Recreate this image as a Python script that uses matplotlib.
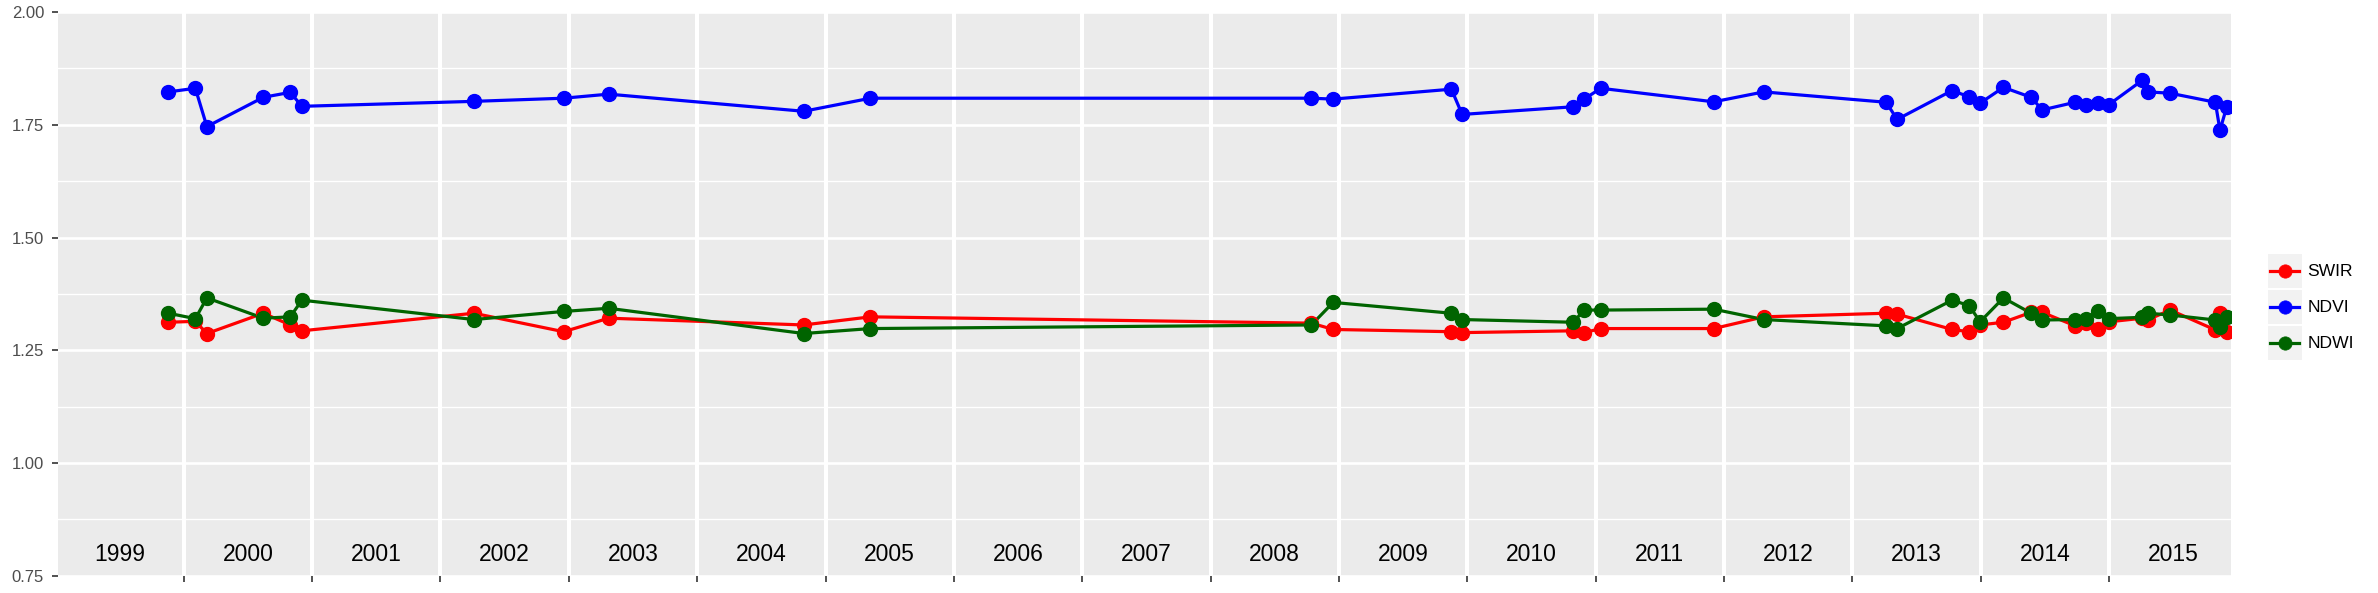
import matplotlib
matplotlib.use("Agg")
import matplotlib.pyplot as plt
from matplotlib.patches import Rectangle
from matplotlib.ticker import MultipleLocator, NullFormatter

# acquisition dates as decimal years
dates = [1999.88, 2000.09, 2000.18, 2000.62, 2000.83, 2000.92, 2002.26, 2002.96, 2003.31,
         2004.83, 2005.35,
         2008.785, 2008.955, 2009.876, 2009.96, 2010.825, 2010.91, 2011.04, 2011.92,
         2012.31, 2013.263, 2013.349, 2013.777, 2013.91, 2013.995, 2014.177, 2014.393,
         2014.479, 2014.736, 2014.822, 2014.91, 2015.0, 2015.26, 2015.305, 2015.477,
         2015.828, 2015.864, 2015.916]

swir = [1.312, 1.314, 1.287, 1.332, 1.306, 1.293, 1.332, 1.291, 1.321,
        1.306, 1.324,
        1.310, 1.296, 1.291, 1.289, 1.293, 1.289, 1.298, 1.298,
        1.324, 1.332, 1.330, 1.296, 1.291, 1.306, 1.312, 1.334, 1.334, 1.304,
        1.310, 1.298, 1.313, 1.321, 1.318, 1.339, 1.295, 1.332, 1.291]

ndvi = [1.823, 1.831, 1.746, 1.811, 1.822, 1.791, 1.802, 1.809, 1.818,
        1.780, 1.809,
        1.809, 1.807, 1.829, 1.773, 1.790, 1.807, 1.831, 1.801,
        1.823, 1.800, 1.762, 1.826, 1.812, 1.798, 1.833, 1.811, 1.783, 1.800,
        1.795, 1.798, 1.795, 1.849, 1.823, 1.820, 1.800, 1.738, 1.789]

ndwi = [1.332, 1.320, 1.366, 1.321, 1.324, 1.361, 1.318, 1.336, 1.343,
        1.287, 1.298,
        1.306, 1.356, 1.332, 1.318, 1.312, 1.339, 1.339, 1.341,
        1.318, 1.304, 1.298, 1.361, 1.349, 1.313, 1.366, 1.332, 1.317, 1.318,
        1.320, 1.337, 1.320, 1.323, 1.332, 1.328, 1.317, 1.302, 1.323]

years = list(range(1999, 2016))
series = [("SWIR", swir, "#FF0000"), ("NDVI", ndvi, "#0000FF"), ("NDWI", ndwi, "#006400")]

W, H = 2378, 593
plt.rcParams['font.family'] = ['Liberation Sans', 'DejaVu Sans']
fig = plt.figure(figsize=(W / 100, H / 100), dpi=100)
ax = fig.add_axes([58 / W, 1 - 575.6 / H, (2231 - 58) / W, (575.6 - 12.1) / H])

ax.set_facecolor("#EBEBEB")
for s in ax.spines.values():
    s.set_visible(False)

ax.set_xlim(1999.02, 2015.95)
ax.set_ylim(0.75, 2.00)
ax.xaxis.set_major_locator(MultipleLocator(1))
ax.xaxis.set_major_formatter(NullFormatter())
ax.yaxis.set_major_locator(MultipleLocator(0.25))
ax.yaxis.set_minor_locator(MultipleLocator(0.125))
ax.yaxis.set_major_formatter(plt.FuncFormatter(lambda v, p: "%.2f" % v))
ax.tick_params(axis="both", which="major", length=4, width=1.2, color="#333333",
               labelsize=12, labelcolor="#4D4D4D", pad=6)
ax.tick_params(axis="y", which="minor", length=0)
ax.grid(axis="x", which="major", color="white", linewidth=2.9)
ax.grid(axis="y", which="major", color="white", linewidth=1.9)
ax.grid(axis="y", which="minor", color="white", linewidth=1.0)
ax.set_axisbelow(True)

for name, vals, col in series:
    ax.plot(dates, vals, color=col, linewidth=2.3, zorder=2)
for name, vals, col in series:
    ax.plot(dates, vals, linestyle="none", marker="o", markersize=10, markeredgewidth=1,
            color=col, zorder=3)

for y in years:
    ax.text(y + 0.5, 0.797, str(y), ha="center", va="center", fontsize=16.5, color="black")

# legend drawn by hand, ggplot style keys
lg = fig.add_axes([2268 / W, 1 - 362 / H, 110 / W, 110 / H])
lg.set_xlim(0, 110)
lg.set_ylim(110, 0)
lg.axis("off")
for i, (name, vals, col) in enumerate(series):
    top = 2 + i * 36
    lg.add_patch(Rectangle((0, top), 34, 34, facecolor="#F2F2F2", edgecolor="none"))
    lg.plot([2, 31], [top + 17, top + 17], color=col, linewidth=2.3)
    lg.plot([17], [top + 17], marker="o", markersize=9.6, markeredgewidth=0.5, color=col)
    lg.text(39.5, top + 17, name, ha="left", va="center", fontsize=12.6, color="black")

fig.savefig("out.png", dpi=100)
